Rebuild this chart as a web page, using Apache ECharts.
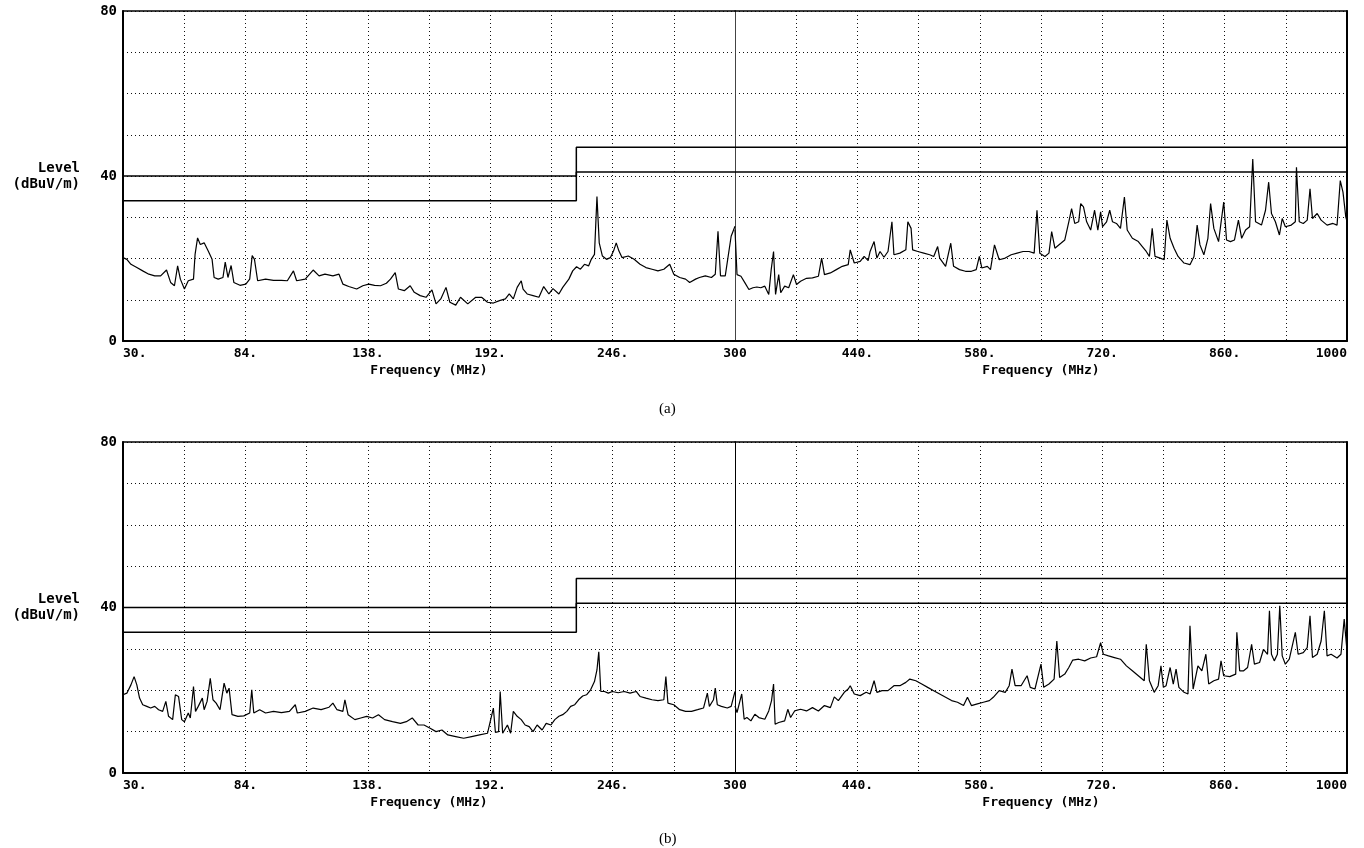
<!DOCTYPE html>
<html>
<head>
<meta charset="utf-8">
<title>Level vs frequency scans (a) and (b)</title>
<script src="https://cdn.jsdelivr.net/npm/echarts@6/dist/echarts.min.js"></script>
<style>
  html, body { margin: 0; padding: 0; background: #fff; }
  #chart { width: 1364px; height: 848px; }
</style>
</head>
<body>
<div id="chart"></div>
<script>
// tick labels, one per grid division (10 divisions per half)
var lowTicks = ['30.', '', '84.', '', '138.', '', '192.', '', '246.', '', '300'];
var highTicks = ['', '', '440.', '', '580.', '', '720.', '', '860.', '', '1000'];
var levelTicks = [0, 40, 80];

// limit lines (dBuV/m), step at 230 MHz
var splitFreq = 300;
var limitFreq = [30, 230, 1000];
var limitUpper = [40, 47];
var limitLower = [34, 41];

// (a) 30-300 MHz
var aLowFreq = [30.0,31.7,33.5,36.1,38.7,41.4,44.0,46.6,49.2,51.0,52.7,54.1,55.3,57.1,58.8,61.1,61.8,62.9,64.1,65.8,
  67.6,69.3,70.2,72.0,74.1,75.1,76.3,77.7,78.9,81.6,84.2,85.9,87.0,88.0,89.4,92.9,96.4,99.9,102.5,105.2,
  106.6,110.4,113.9,116.5,119.1,122.6,125.3,127.0,129.6,133.1,135.8,138.4,141.0,143.6,146.2,148.0,150.1,151.5,154.1,156.7,
  158.5,161.1,163.7,166.3,168.1,170.2,172.5,174.2,176.8,178.9,182.1,185.6,188.2,190.8,193.4,196.1,198.7,200.4,202.2,203.9,
  205.7,206.5,208.3,210.9,213.5,215.6,217.9,219.7,222.3,224.0,226.7,228.4,230.1,231.8,233.6,235.4,236.6,238.0,239.1,240.1,
  241.5,243.3,245.0,246.4,247.6,248.8,250.2,252.9,255.5,258.1,260.7,263.4,266.0,268.6,271.2,273.0,275.6,278.2,280.0,282.6,
  284.3,286.9,289.6,291.3,292.5,293.6,295.7,298.3,300.0];
var aLowLevel = [20.2,19.8,18.6,17.8,17.0,16.2,15.8,15.8,17.2,14.2,13.4,18.2,15.0,12.6,14.6,15.0,21.0,25.0,23.4,23.8,
  21.8,19.8,15.4,15.0,15.4,19.1,15.4,18.3,14.2,13.5,13.8,15.0,20.7,19.8,14.6,15.0,14.7,14.7,14.6,17.0,
  14.6,15.0,17.2,15.8,16.2,15.8,16.2,13.8,13.2,12.6,13.4,13.8,13.5,13.4,14.0,15.0,16.6,12.6,12.2,13.4,
  11.8,11.0,10.6,12.4,9.0,10.2,13.0,9.4,8.7,10.6,9.0,10.6,10.6,9.4,9.2,9.8,10.2,11.4,10.2,13.0,
  14.6,12.6,11.4,11.0,10.6,13.2,11.4,12.7,11.4,13.0,15.0,17.0,18.0,17.4,18.6,18.2,19.8,21.0,35.0,23.8,
  20.6,19.8,20.2,21.8,23.8,21.8,20.2,20.6,19.8,18.6,17.8,17.4,17.0,17.4,18.6,16.2,15.4,15.0,14.2,15.0,
  15.4,15.8,15.4,16.2,26.6,15.8,15.8,25.4,27.8];

// (a) 300-1000 MHz
var aHighFreq = [300.0,302.3,306.8,311.4,315.9,320.5,325.0,329.5,334.1,338.6,341.4,
  344.1,346.4,350.0,352.3,356.8,361.4,366.8,370.4,375.0,381.8,
  388.6,395.4,399.1,402.3,409.1,415.9,422.7,429.5,431.8,436.4,
  443.2,447.7,452.3,454.5,459.1,462.3,465.9,470.4,475.0,479.5,
  481.8,488.6,495.4,497.7,501.4,503.2,509.1,515.9,522.7,527.3,
  531.8,534.1,540.9,546.8,550.0,556.8,563.6,570.4,575.9,579.5,
  582.3,588.6,592.2,596.8,602.2,609.1,615.9,622.7,629.5,636.3,
  642.2,645.4,648.6,654.5,659.1,662.2,665.9,672.7,677.2,681.8,
  685.0,688.6,693.1,695.4,698.6,702.2,706.8,711.3,715.0,718.2,
  720.4,725.0,728.6,731.8,736.3,740.9,745.4,748.6,754.5,761.3,
  765.9,770.4,774.0,777.2,780.4,786.3,790.9,794.0,797.7,802.2,
  806.8,813.6,820.4,825.0,828.6,831.8,836.3,840.9,844.0,847.7,
  853.1,859.0,862.2,866.7,871.3,875.8,879.5,884.0,888.6,892.2,
  895.4,902.2,906.8,910.4,913.6,918.1,922.7,925.9,929.5,936.3,
  940.9,942.2,945.4,950.0,954.5,957.7,960.5,965.9,970.4,977.2,
  984.0,988.6,992.3,995.4,998.6,1000.0];
var aHighLevel = [27.0,16.1,15.7,14.1,12.5,12.9,13.1,12.9,13.3,11.3,17.3,
  21.7,11.3,16.1,11.7,13.3,12.9,16.1,13.7,14.5,15.2,
  15.3,15.7,20.1,16.1,16.5,17.3,18.1,18.5,22.1,18.9,
  19.3,20.5,19.5,21.7,24.1,20.1,21.7,20.3,21.7,28.9,
  20.9,21.3,22.1,28.9,27.3,22.1,21.7,21.3,20.9,20.5,
  22.9,20.1,18.1,23.7,18.1,17.3,16.9,16.9,17.3,20.5,
  17.7,18.1,17.3,23.3,19.7,20.1,20.9,21.3,21.7,21.7,
  21.3,31.7,21.3,20.5,21.3,26.5,22.5,23.7,24.5,28.9,
  32.1,28.5,28.9,33.3,32.5,28.9,26.9,31.7,26.9,31.3,
  27.7,28.9,31.7,28.9,28.5,27.3,34.9,26.9,24.9,24.1,
  22.9,21.7,20.5,27.3,20.5,20.1,19.7,29.3,24.9,22.5,
  20.5,18.9,18.5,20.5,28.1,23.3,20.9,24.9,33.3,27.3,
  24.1,33.7,24.5,24.1,24.5,29.3,24.9,26.9,27.7,44.1,
  28.9,28.1,31.7,38.5,30.9,28.9,25.7,29.7,27.7,28.1,
  28.9,42.1,28.9,28.5,29.3,36.9,29.7,30.9,29.3,28.1,
  28.5,28.1,38.9,36.1,30.1,29.0];

// (b) 30-300 MHz
var bLowFreq = [30.0,31.7,33.5,34.9,36.1,37.3,38.7,40.5,42.2,44.0,
  45.7,47.5,48.9,50.1,51.9,53.1,54.5,55.9,57.1,58.8,
  59.7,61.1,62.0,63.2,65.0,65.8,67.1,68.5,69.7,71.1,
  72.8,74.6,75.8,76.8,78.1,80.7,83.3,85.9,86.8,87.7,
  90.3,92.9,96.4,99.9,103.4,106.0,106.9,110.4,113.9,117.4,
  120.9,122.6,124.4,127.0,127.9,129.3,132.3,134.9,137.5,140.1,
  142.7,145.4,148.9,152.4,155.0,157.6,160.2,162.8,165.5,168.1,
  170.7,173.3,176.8,180.3,183.8,187.3,190.8,193.4,194.3,195.7,
  196.4,197.5,199.6,201.0,202.2,203.9,205.7,207.4,209.2,210.9,
  212.7,214.9,216.7,218.8,220.5,222.3,224.0,225.8,227.5,229.3,
  231.0,232.8,234.5,236.3,238.0,239.1,239.9,240.8,242.4,244.1,
  245.9,248.5,251.1,253.7,256.4,258.1,260.7,263.4,266.0,268.6,
  269.5,270.4,273.0,275.6,278.2,280.8,283.5,286.1,287.8,288.7,
  290.5,291.3,292.2,294.0,296.6,298.3,300.0];
var bLowLevel = [18.9,19.3,21.3,23.3,21.3,18.1,16.5,16.1,15.7,16.1,
  15.3,14.9,17.3,13.7,12.9,18.9,18.5,12.9,12.4,14.5,
  13.3,20.9,14.9,16.1,18.1,15.3,17.3,22.9,17.7,16.9,
  15.3,21.7,19.3,20.5,14.1,13.7,13.8,14.5,20.1,14.5,
  15.3,14.5,14.9,14.6,14.9,16.5,14.5,14.9,15.7,15.3,
  15.9,16.9,15.3,14.9,17.7,14.1,12.9,13.3,13.7,13.3,
  14.1,12.9,12.4,12.0,12.4,13.3,11.6,11.6,10.8,10.0,
  10.4,9.2,8.8,8.4,8.8,9.2,9.6,15.7,9.8,10.0,
  19.7,9.6,11.6,9.6,14.9,13.7,12.9,11.6,11.2,10.0,
  11.6,10.4,12.0,11.6,12.9,13.7,14.1,14.9,16.1,16.5,
  17.7,18.6,18.9,20.1,22.1,24.9,29.3,19.7,19.7,19.3,
  19.7,19.4,19.7,19.3,19.7,18.5,18.1,17.7,17.5,17.7,
  23.3,16.9,16.5,15.3,14.9,14.9,15.3,15.7,19.3,16.1,
  17.7,20.5,16.5,16.1,15.7,16.1,19.7];

// (b) 300-1000 MHz
var bHighFreq = [300.0,302.3,304.5,307.7,310.5,313.6,318.2,322.7,327.3,334.1,338.6,
  341.8,344.1,345.9,350.0,356.8,360.4,363.6,368.2,375.0,381.8,
  388.6,395.4,402.3,409.1,413.6,418.2,425.0,429.5,431.8,436.4,
  443.2,450.0,454.5,459.1,462.3,468.2,475.0,481.8,488.6,495.4,
  500.0,506.8,513.6,520.4,527.3,534.1,540.9,547.7,554.5,561.4,
  565.9,570.4,577.2,584.1,590.9,595.4,602.2,609.1,613.6,616.8,
  620.4,627.2,634.1,637.7,643.1,650.0,653.1,659.1,665.0,668.1,
  671.3,677.2,681.8,686.3,693.1,700.0,706.8,713.6,718.2,721.3,
  727.2,734.0,740.9,747.7,754.5,761.3,768.1,770.4,774.0,779.5,
  784.0,787.2,790.0,793.1,797.7,801.3,804.5,807.7,813.6,818.1,
  820.4,824.0,829.5,834.0,838.6,841.8,847.7,853.1,855.9,859.0,
  865.9,872.7,874.0,877.2,881.8,886.3,890.9,894.1,900.0,904.5,
  909.1,911.3,913.6,916.8,920.4,923.1,925.9,929.5,934.0,940.9,
  944.1,950.0,954.5,957.7,960.5,965.9,970.4,974.1,977.2,981.8,
  988.6,993.1,996.8,1000.0];
var bHighLevel = [16.2,14.6,14.6,19.1,13.0,13.4,12.6,14.2,13.4,13.0,15.0,
  17.5,21.5,11.8,12.2,12.6,15.4,13.4,15.0,15.4,15.0,
  15.8,15.0,16.3,15.8,18.4,17.5,19.5,20.3,21.1,19.1,
  18.7,19.5,19.1,22.3,19.5,19.9,19.9,21.1,21.1,21.9,
  22.7,22.3,21.5,20.7,19.9,19.1,18.3,17.5,17.1,16.3,
  18.3,16.3,16.7,17.1,17.5,18.3,19.9,19.5,21.1,25.1,
  21.1,21.1,23.5,20.7,20.3,26.3,20.7,21.5,22.7,31.9,
  23.1,23.9,25.5,27.3,27.5,27.1,27.8,28.1,31.5,28.7,
  28.3,27.9,27.5,25.9,24.7,23.5,22.3,31.1,22.3,19.5,
  21.1,25.9,20.7,21.1,25.5,21.5,25.1,20.7,19.5,19.1,
  35.6,20.3,25.9,24.7,28.7,21.5,22.3,22.7,27.1,23.5,
  23.3,23.9,34.0,24.7,24.7,25.5,31.1,26.3,26.7,29.9,
  28.7,39.2,28.7,27.1,28.7,40.4,28.3,26.3,27.5,34.0,
  28.7,29.1,30.3,38.0,27.9,28.7,31.9,39.2,28.3,28.7,
  27.8,28.7,37.2,29.5];

var MONO = '"DejaVu Sans Mono", "Liberation Mono", monospace';
var dotted = { color: '#111', width: 1, type: [1, 3] };

function zip(f, v) {
  var out = [];
  for (var i = 0; i < Math.min(f.length, v.length); i++) out.push([f[i], v[i]]);
  return out;
}

// step limit line, split into the part left and right of 300 MHz
function limitData(lim, half) {
  if (half === 0) return [[limitFreq[0], lim[0]], [limitFreq[1], lim[1]], [splitFreq, lim[1]]];
  return [[splitFreq, lim[1]], [limitFreq[2], lim[1]]];
}

var panels = [
  { top: 11, height: 330, traces: [zip(aLowFreq, aLowLevel), zip(aHighFreq, aHighLevel)], splitColor: '#444' },
  { top: 442, height: 331, traces: [zip(bLowFreq, bLowLevel), zip(bHighFreq, bHighLevel)], splitColor: '#000' }
];
var halves = [
  { left: 123, width: 612, min: 30, max: 300, ticks: lowTicks },
  { left: 735, width: 612, min: 300, max: 1000, ticks: highTicks }
];

var grid = [], xAxis = [], yAxis = [], series = [];

panels.forEach(function (p) {
  halves.forEach(function (h, hi) {
    var g = grid.length;
    grid.push({ left: h.left, top: p.top, width: h.width, height: p.height });

    // division axis: draws the dotted grid, tick labels and axis name
    xAxis.push({
      gridIndex: g, type: 'value', min: 0, max: 10, interval: 1, position: 'bottom',
      axisLine: { show: true, onZero: false, lineStyle: { color: '#000', width: 2 } },
      axisTick: { show: false },
      axisLabel: {
        formatter: function (v) { return h.ticks[Math.round(v)] || ''; },
        margin: 6, color: '#000', fontFamily: MONO, fontWeight: 'bold', fontSize: 13,
        alignMinLabel: hi === 0 ? 'left' : 'center',
        alignMaxLabel: hi === 1 ? 'right' : 'center'
      },
      splitLine: { show: true, lineStyle: dotted },
      name: 'Frequency (MHz)', nameLocation: 'middle', nameGap: 23,
      nameTextStyle: { color: '#000', fontFamily: MONO, fontWeight: 'bold', fontSize: 13 }
    });
    // frequency axis that positions the data; its line is the top frame
    xAxis.push({
      gridIndex: g, type: 'value', min: h.min, max: h.max, position: 'top',
      axisLine: { show: true, onZero: false, lineStyle: { color: '#000', width: 1.5 } },
      axisTick: { show: false }, axisLabel: { show: false }, splitLine: { show: false }
    });

    var y = {
      gridIndex: g, type: 'value', min: 0, max: 80, interval: 10,
      position: hi === 0 ? 'left' : 'right',
      axisLine: { show: true, onZero: false, lineStyle: { color: '#000', width: 2 } },
      splitLine: { show: true, lineStyle: dotted },
      axisTick: { show: false },
      axisLabel: { show: false }
    };
    if (hi === 0) {
      y.axisLabel = {
        show: true, margin: 6,
        formatter: function (v) { return levelTicks.indexOf(v) >= 0 ? String(v) : ''; },
        color: '#000', fontFamily: MONO, fontWeight: 'bold', fontSize: 14
      };
      y.name = 'Level\n(dBuV/m)';
      y.nameLocation = 'middle';
      y.nameRotate = 0;
      y.nameGap = 43;
      y.nameTextStyle = {
        color: '#000', fontFamily: MONO, fontWeight: 'bold', fontSize: 14,
        align: 'right', verticalAlign: 'middle', lineHeight: 16, padding: [0, 0, 16, 0]
      };
    }
    yAxis.push(y);
    var yi = yAxis.length - 1;
    var xi = 2 * g + 1;

    series.push({
      type: 'line', xAxisIndex: xi, yAxisIndex: yi, data: p.traces[hi],
      showSymbol: false, symbol: 'none', silent: true, z: 3,
      lineStyle: { color: '#000', width: 1.2 }
    });
    [limitUpper, limitLower].forEach(function (lim) {
      series.push({
        type: 'line', step: 'end', xAxisIndex: xi, yAxisIndex: yi, data: limitData(lim, hi),
        showSymbol: false, symbol: 'none', silent: true, z: 4,
        lineStyle: { color: '#000', width: 1.5 }
      });
    });

    if (hi === 1) {
      // thin line where the 30-300 and 300-1000 MHz scans meet
      yAxis.push({
        gridIndex: g, type: 'value', min: 0, max: 80, position: 'left',
        axisLine: { show: true, onZero: false, lineStyle: { color: p.splitColor, width: 1 } },
        axisTick: { show: false }, axisLabel: { show: false }, splitLine: { show: false }
      });
    }
  });
});

var chart = echarts.init(document.getElementById('chart'));
chart.setOption({
  animation: false,
  backgroundColor: '#fff',
  grid: grid,
  xAxis: xAxis,
  yAxis: yAxis,
  series: series,
  graphic: [
    { type: 'text', left: 659, top: 402, style: { text: '(a)', font: '15px "Liberation Serif", serif', fill: '#000' } },
    { type: 'text', left: 659, top: 832, style: { text: '(b)', font: '15px "Liberation Serif", serif', fill: '#000' } }
  ]
});
</script>
</body>
</html>
